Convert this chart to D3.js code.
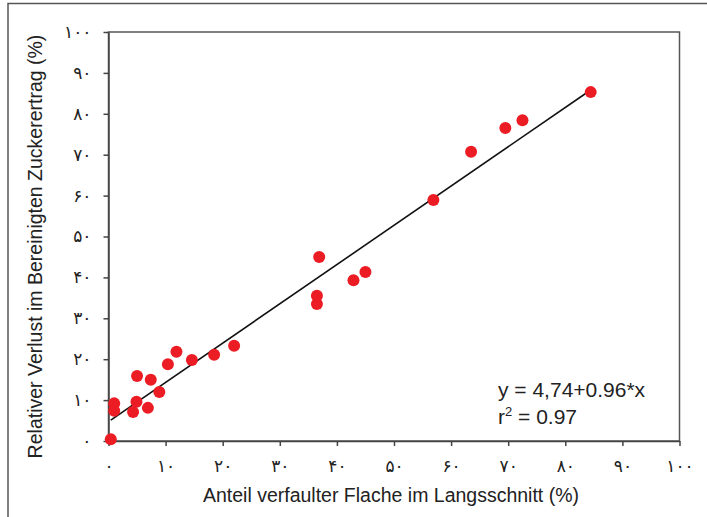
<!DOCTYPE html>
<html>
<head>
<meta charset="utf-8">
<script src="https://cdn.jsdelivr.net/npm/d3@7"></script>
<style>
  body { margin: 0; background: #fff; }
  svg { display: block; }
</style>
</head>
<body>
<script>
// data
const rotX = [0.4, 1.0, 1.0, 4.3, 4.9, 5.0, 6.9, 7.4, 8.9, 10.4, 11.9, 14.6, 18.5, 22.0,
              36.5, 36.5, 36.9, 42.9, 45.0, 56.9, 63.5, 69.5, 72.5, 84.45];
const lossY = [0.4, 9.2, 7.4, 7.1, 9.6, 15.9, 8.1, 15.0, 12.0, 18.75, 21.8, 19.8, 21.1, 23.3,
               33.5, 35.5, 45.0, 39.3, 41.3, 58.9, 70.7, 76.5, 78.4, 85.3];
const ticks = [0, 10, 20, 30, 40, 50, 60, 70, 80, 90, 100];
const fit = { a: 4.74, b: 0.96 };
const eqLines = ["y = 4,74+0.96*x", "r2 = 0.97"];

const W = 707, H = 517;
const m = { left: 108.5, right: 679.5, top: 32, bottom: 441 };

const svg = d3.select("body").append("svg").attr("width", W).attr("height", H);

// outer frame
svg.append("path")
  .attr("d", `M8,${H} V3.5 H${W}`)
  .attr("fill", "none").attr("stroke", "#555").attr("stroke-width", 1.5);

let x = d3.scaleLinear().domain([0, 100]).range([m.left, m.right]);
let y = d3.scaleLinear().domain([0, 100]).range([m.bottom, m.top]);

const fa = d3.format("d");
const persian = v => fa(v).replace(/\d/g, c => "۰۱۲۳۴۵۶۷۸۹"[+c]);

// plot box
svg.append("rect")
  .attr("x", m.left).attr("y", m.top)
  .attr("width", m.right - m.left).attr("height", m.bottom - m.top)
  .attr("fill", "none").attr("stroke", "#555").attr("stroke-width", 1.5);

let gx = svg.append("g").attr("transform", `translate(0,${m.bottom})`)
  .call(d3.axisBottom(x).tickValues(ticks).tickSize(5).tickSizeOuter(0).tickPadding(14).tickFormat(persian));
let gy = svg.append("g").attr("transform", `translate(${m.left},0)`)
  .call(d3.axisLeft(y).tickValues(ticks).tickSize(5).tickSizeOuter(0).tickPadding(12).tickFormat(persian));

[gx, gy].forEach(g => {
  g.select(".domain").attr("stroke", "#444").attr("stroke-width", 1.5);
  g.selectAll(".tick line").attr("stroke", "#444").attr("stroke-width", 1.5);
  g.selectAll(".tick text")
    .attr("fill", "#222")
    .style("font-family", "'DejaVu Sans', sans-serif")
    .style("font-size", "17px")
    .style("letter-spacing", "3px");
});

// regression line
const x0 = d3.min(rotX), x1 = d3.max(rotX);
svg.append("line")
  .attr("x1", x(x0)).attr("y1", y(fit.a + fit.b * x0))
  .attr("x2", x(x1)).attr("y2", y(fit.a + fit.b * x1))
  .attr("stroke", "#111").attr("stroke-width", 1.6);

// points
svg.append("g").selectAll("circle").data(rotX).enter()
  .append("circle")
  .attr("cx", d => x(d))
  .attr("cy", (d, i) => y(lossY[i]))
  .attr("r", 6)
  .attr("fill", "#ec1c24");

// axis titles
const font = "'Liberation Sans', Arial, sans-serif";
svg.append("text")
  .attr("x", 391).attr("y", 502)
  .attr("text-anchor", "middle")
  .style("font-family", font).style("font-size", "19.5px").attr("fill", "#222")
  .text("Anteil verfaulter Flache im Langsschnitt (%)");

svg.append("text")
  .attr("transform", `translate(42,${(m.top + m.bottom) / 2 + 10}) rotate(-90)`)
  .attr("text-anchor", "middle")
  .style("font-family", font).style("font-size", "19.5px").attr("fill", "#222")
  .text("Relativer Verlust im Bereinigten Zuckerertrag (%)");

// equation
svg.append("text")
  .attr("x", 498).attr("y", 397)
  .style("font-family", font).style("font-size", "21px").attr("fill", "#222")
  .text(eqLines[0]);
let r2 = svg.append("text")
  .attr("x", 498).attr("y", 424)
  .style("font-family", font).style("font-size", "21px").attr("fill", "#222");
r2.append("tspan").text("r");
r2.append("tspan").attr("dy", -8).style("font-size", "13px").text("2");
r2.append("tspan").attr("dy", 8).text(" = 0.97");
</script>
</body>
</html>
